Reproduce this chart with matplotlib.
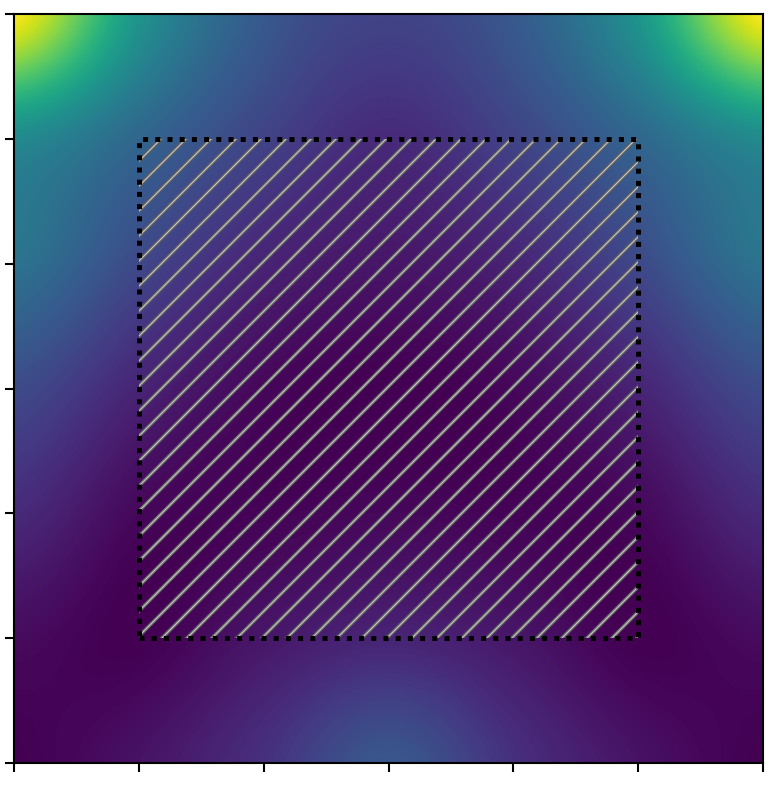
import numpy as np
import matplotlib
matplotlib.use("Agg")
import matplotlib as mpl
import matplotlib.pyplot as plt
from matplotlib.patches import Rectangle

# grid positions (data units) where the field was read
grid_x = [0, 1, 2, 3, 4, 5, 6]
grid_y = [6, 5, 4, 3, 2, 1, 0]   # rows listed top to bottom

# normalized field values (rows top -> bottom)
row_y6 = [1.00, 0.52, 0.28, 0.20, 0.28, 0.52, 1.00]
row_y5 = [0.48, 0.33, 0.20, 0.12, 0.20, 0.33, 0.48]
row_y4 = [0.38, 0.22, 0.10, 0.06, 0.10, 0.22, 0.38]
row_y3 = [0.23, 0.10, 0.02, 0.00, 0.02, 0.10, 0.23]
row_y2 = [0.12, 0.02, 0.01, 0.02, 0.01, 0.02, 0.12]
row_y1 = [0.03, 0.00, 0.06, 0.10, 0.06, 0.00, 0.03]
row_y0 = [0.00, 0.05, 0.14, 0.27, 0.14, 0.05, 0.00]

# hatched rectangle (data units)
rect_x0, rect_y0 = 1, 1
rect_w, rect_h = 4, 4

tick_positions = [0, 1, 2, 3, 4, 5, 6]

Z = np.array([row_y6, row_y5, row_y4, row_y3, row_y2, row_y1, row_y0])

DPI = 150
fig = plt.figure(figsize=(778 / DPI, 788 / DPI), dpi=DPI)
ax = fig.add_axes([14 / 778, 25 / 788, 749 / 778, 749 / 788])

ax.imshow(Z, cmap="viridis", vmin=0, vmax=1, interpolation="catrom",
          origin="upper",
          extent=(grid_x[0] - 0.5, grid_x[-1] + 0.5,
                  grid_y[-1] - 0.5, grid_y[0] + 0.5),
          aspect="auto")
ax.set_xlim(0, 6)
ax.set_ylim(0, 6)


class HatchRect(Rectangle):
    """Rectangle whose hatch is drawn with its own hatch line width."""

    def __init__(self, *args, hlw=1.0, **kwargs):
        with mpl.rc_context({"hatch.linewidth": hlw}):
            super().__init__(*args, **kwargs)
        self._my_hlw = hlw
        if hasattr(self, "set_hatch_linewidth"):
            self.set_hatch_linewidth(hlw)

    def draw(self, renderer):
        with mpl.rc_context({"hatch.linewidth": self._my_hlw}):
            super().draw(renderer)


# hatch: grey outer stroke + light core
ax.add_patch(HatchRect((rect_x0, rect_y0), rect_w, rect_h, fill=False,
                       edgecolor="#606060", linewidth=0, hatch="//",
                       hlw=1.8))
ax.add_patch(HatchRect((rect_x0, rect_y0), rect_w, rect_h, fill=False,
                       edgecolor="#c8c8c8", linewidth=0, hatch="//",
                       hlw=0.55))

border = Rectangle((rect_x0, rect_y0), rect_w, rect_h, fill=False,
                   edgecolor="black", linewidth=2.4,
                   linestyle=(0, (1, 1.44)))
ax.add_patch(border)

ax.set_xticks(tick_positions)
ax.set_yticks(tick_positions)
ax.set_xticklabels([])
ax.set_yticklabels([])
ax.tick_params(length=4.3, width=1.0)
for s in ax.spines.values():
    s.set_linewidth(1.0)

fig.savefig("out.png", dpi=DPI)
